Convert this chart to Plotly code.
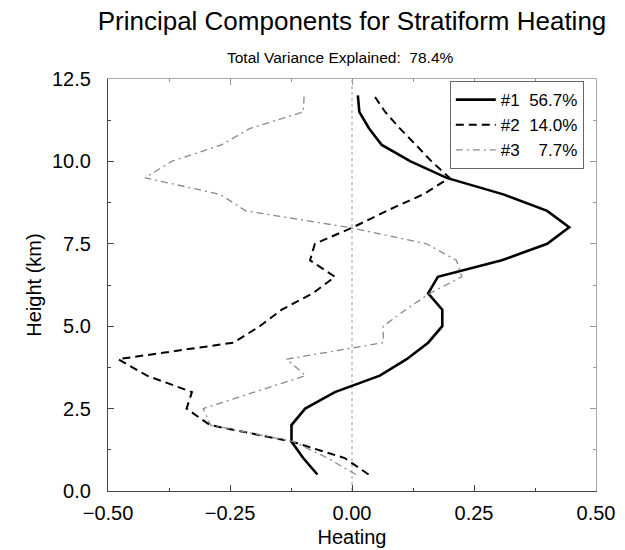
import plotly.graph_objects as go

# Height levels (km) of the heating profiles
height = [0.5, 1.0, 1.5, 2.0, 2.5, 3.0, 3.5, 4.0, 4.5, 5.0, 5.5, 6.0,
          6.5, 7.0, 7.5, 8.0, 8.5, 9.0, 9.5, 10.0, 10.5, 11.0, 11.5, 12.0]

# Principal component loadings of stratiform heating
pc1 = [-0.071, -0.100, -0.124, -0.124, -0.096, -0.035, 0.057, 0.112, 0.156, 0.185, 0.185, 0.156,
       0.176, 0.307, 0.400, 0.445, 0.400, 0.310, 0.194, 0.120, 0.061, 0.035, 0.015, 0.012]
pc2 = [0.034, -0.015, -0.124, -0.291, -0.339, -0.328, -0.420, -0.479, -0.243, -0.189, -0.144, -0.080,
       -0.035, -0.086, -0.076, 0.002, 0.071, 0.146, 0.200, 0.163, 0.131, 0.098, 0.068, 0.045]
pc3 = [0.008, -0.050, -0.120, -0.290, -0.305, -0.202, -0.095, -0.134, 0.064, 0.064, 0.110, 0.160,
       0.225, 0.214, 0.153, -0.008, -0.218, -0.270, -0.424, -0.370, -0.268, -0.209, -0.100, -0.098]

legend_names = ["#1\u00a0\u00a056.7%", "#2\u00a0\u00a014.0%", "#3\u00a0\u00a0\u00a0\u00a07.7%"]

FONT = "Liberation Sans, Arial, Helvetica, sans-serif"

fig = go.Figure()
fig.add_trace(go.Scatter(x=pc1, y=height, mode="lines", name=legend_names[0],
                         line=dict(color="black", width=2.6)))
fig.add_trace(go.Scatter(x=pc2, y=height, mode="lines", name=legend_names[1],
                         line=dict(color="black", width=2.0, dash="8px,5px")))
fig.add_trace(go.Scatter(x=pc3, y=height, mode="lines", name=legend_names[2],
                         line=dict(color="#8a8a8a", width=1.3, dash="7px,4px,2px,4px")))

# top / right frame drawn on overlaying axes with lighter lines
fig.add_trace(go.Scatter(x=[None], y=[None], xaxis="x2", yaxis="y2",
                         showlegend=False, hoverinfo="skip"))

# dotted zero line
fig.add_shape(type="line", xref="x", yref="paper", x0=0, x1=0, y0=0, y1=1,
              line=dict(color="#9a9a9a", width=1, dash="dot"), layer="below")

axis_common = dict(ticks="inside", ticklen=6, tickwidth=1, tickcolor="#444",
                   showgrid=False, zeroline=False, showline=True, linewidth=1.3,
                   linecolor="#444")

fig.update_layout(
    width=625, height=550,
    margin=dict(l=108, r=29, t=79, b=59),
    paper_bgcolor="white", plot_bgcolor="white",
    font=dict(family=FONT, color="black"),
    title=dict(text="Principal Components for Stratiform Heating",
               x=352 / 625, xanchor="center", y=1 - 21 / 550, yanchor="middle",
               font=dict(size=26, family=FONT)),
    xaxis=dict(range=[-0.5, 0.5], tickvals=[-0.5, -0.25, 0, 0.25, 0.5],
               ticktext=["\u22120.50", "\u22120.25", "0.00", "0.25", "0.50"],
               minor=dict(dtick=0.125, tick0=0, ticks="inside", ticklen=3, tickcolor="#444"),
               tickfont=dict(size=20), title=dict(text="Heating", font=dict(size=20), standoff=6),
               ticklabelstandoff=4, automargin=False, **axis_common),
    yaxis=dict(range=[0, 12.5], tickvals=[0, 2.5, 5, 7.5, 10, 12.5],
               ticktext=["0.0", "2.5", "5.0", "7.5", "10.0", "12.5"],
               minor=dict(dtick=1.25, tick0=0, ticks="inside", ticklen=3, tickcolor="#444"),
               tickfont=dict(size=20), title=dict(text="Height (km)", font=dict(size=20), standoff=4),
               ticklabelstandoff=12, automargin=True, **axis_common),
    xaxis2=dict(range=[-0.5, 0.5], overlaying="x", side="top", showticklabels=False,
                tickvals=[-0.5, -0.25, 0, 0.25, 0.5], automargin=False,
                minor=dict(dtick=0.125, tick0=0, ticks="inside", ticklen=3, tickcolor="#999"),
                ticks="inside", ticklen=6, tickcolor="#999", showline=True, linecolor="#aaa",
                linewidth=1, showgrid=False, zeroline=False),
    yaxis2=dict(range=[0, 12.5], overlaying="y", side="right", showticklabels=False,
                tickvals=[0, 2.5, 5, 7.5, 10, 12.5], automargin=False,
                minor=dict(dtick=1.25, tick0=0, ticks="inside", ticklen=3, tickcolor="#999"),
                ticks="inside", ticklen=6, tickcolor="#999", showline=True, linecolor="#aaa",
                linewidth=1, showgrid=False, zeroline=False),
    legend=dict(x=0.975, y=0.995, xanchor="right", yanchor="top",
                bordercolor="#666", borderwidth=1, bgcolor="white",
                font=dict(size=17, family=FONT), tracegroupgap=0, itemwidth=40),
    annotations=[dict(text="Total Variance Explained:\u00a0\u00a078.4%", xref="paper", yref="paper",
                      x=(340 - 108) / 488, y=(491 - 58) / 412, xanchor="center", yanchor="middle",
                      showarrow=False, font=dict(size=15.5, family=FONT))],
)

fig.write_html("out.html")
